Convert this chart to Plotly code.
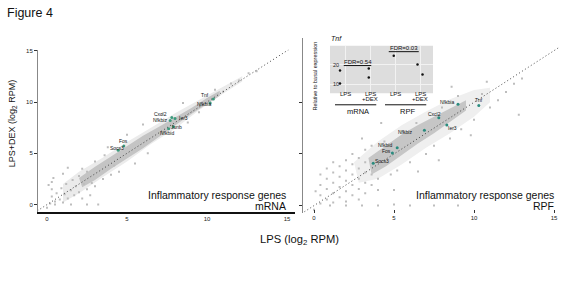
import plotly.graph_objects as go

FONT = "Liberation Sans, Arial, sans-serif"
W, H = 566, 292

# ---------------- data ----------------
axis_ticks = [0, 5, 10, 15]

# left panel (mRNA): dense band outline (upper edge then lower edge)
mrna_band_x = [2.0, 3.0, 4.0, 5.0, 6.0, 7.0, 8.0, 9.0, 10.0, 10.8, 10.8, 10.0, 9.0, 8.0, 7.0, 6.0, 5.0, 4.0, 3.0, 2.2]
mrna_band_y = [2.6, 3.7, 4.7, 5.7, 6.7, 7.6, 8.5, 9.4, 10.4, 11.1, 10.6, 9.8, 8.8, 7.7, 6.6, 5.5, 4.5, 3.5, 2.4, 1.7]
mrna_halo_x = [1.0, 2.0, 3.5, 5.0, 6.5, 8.0, 9.5, 11.0, 12.2, 12.2, 11.0, 9.5, 8.0, 6.5, 5.0, 3.5, 2.0, 1.0]
mrna_halo_y = [2.0, 3.2, 4.6, 6.1, 7.5, 8.9, 10.2, 11.5, 12.5, 12.0, 10.8, 9.2, 7.4, 5.9, 4.2, 2.7, 1.1, 0.2]
mrna_pts_x = [0.2, 0.3, 0.3, 0.3, 0.5, 0.6, 0.8, 0.9, 1.0, 1.1, 1.2, 1.3, 1.5, 1.6, 1.7, 1.8, 2.0, 2.0, 2.2, 2.3,
              2.5, 2.5, 2.8, 3.0, 0.5, 1.5, 2.5, 3.2, 3.5, 2.2, 3.0, 4.0, 1.0, 0.4, 3.6, 4.5, 5.5, 6.3, 5.0, 6.0,
              8.5, 9.5, 11.0, 11.5, 12.0, 10.5, 7.2, 8.8, 3.8, 4.2, 12.6, 13.1, 0.0, 0.1, 1.3, 2.7]
mrna_pts_y = [0.1, 0.8, 1.5, 2.2, 0.3, 1.1, 0.5, 1.6, 0.2, 1.0, 2.0, 0.6, 1.4, 2.4, 0.9, 1.8, 1.2, 2.8, 0.6, 2.0,
              1.5, 3.2, 2.1, 1.8, 0.0, 0.0, 0.0, 0.0, 2.5, 3.5, 4.2, 2.9, 3.0, 2.6, 4.8, 3.2, 4.0, 5.0, 6.8, 7.8,
              9.9, 9.0, 11.0, 11.8, 12.1, 11.2, 8.8, 8.0, 5.6, 3.8, 12.8, 13.0, -0.3, 1.9, 3.6, 0.9]
mrna_genes = ["Tnf", "Nfkbia", "Cxcl2", "Nfkbiz", "Ier3", "Junb", "Nfkbid", "Fos", "Socs3"]
mrna_gene_x = [10.4, 10.2, 7.8, 7.7, 8.0, 7.9, 7.6, 4.8, 4.45]
mrna_gene_y = [10.3, 9.9, 8.5, 8.2, 8.4, 7.6, 7.4, 5.7, 5.3]

# right panel (RPF)
rpf_band_x = [3.4, 4.5, 5.5, 6.5, 7.5, 8.5, 9.5, 9.5, 8.5, 7.5, 6.5, 5.5, 4.5, 3.6]
rpf_band_y = [4.6, 5.8, 6.9, 7.8, 8.6, 9.4, 10.2, 9.2, 8.1, 7.0, 6.0, 4.9, 3.8, 3.0]
rpf_halo_x = [2.5, 4.0, 5.5, 7.0, 8.5, 10.0, 11.0, 11.0, 10.0, 8.5, 7.0, 5.5, 4.0, 2.8]
rpf_halo_y = [4.2, 6.2, 7.8, 9.1, 10.3, 11.2, 11.4, 10.0, 8.6, 7.0, 5.6, 4.0, 2.6, 2.2]
rpf_pts_x = [0.4, 0.4, 0.4, 0.4, 0.8, 0.8, 0.8, 0.8, 1.2, 1.2, 1.2, 1.2, 1.2, 1.6, 1.6, 1.6, 1.6, 2.0, 2.0, 2.0,
             2.0, 2.0, 2.4, 2.4, 2.4, 2.4, 2.4, 2.8, 2.8, 2.8, 2.8, 2.8, 3.2, 3.2, 3.2, 3.2, 3.2, 3.6, 3.6, 3.6,
             4.0, 4.0, 4.4, 4.8, 5.2, 5.6, 6.0, 6.4, 7.0, 7.5, 8.0, 8.5, 9.0, 9.2, 10.0, 10.5, 11.0, 11.5, 12.0, 12.5,
             13.0, 6.5, 7.8, 9.8, 5.0, 4.2, 3.0, 8.6, 12.8, 10.8, 1.0, 2.0, 3.0, 4.0, 5.0, 6.0, 7.5, 9.0, 0.0, 0.1]
rpf_pts_y = [0.2, 1.0, 2.0, 3.0, 0.6, 1.6, 2.6, 3.6, 0.3, 1.2, 2.2, 3.2, 4.2, 0.8, 1.8, 2.8, 3.8, 0.4, 1.4, 2.4,
             3.4, 4.4, 1.0, 2.0, 3.0, 4.0, 5.0, 0.6, 1.6, 2.6, 3.6, 4.6, 1.2, 2.2, 3.2, 4.2, 5.4, 2.0, 3.0, 5.8,
             1.5, 2.6, 6.2, 3.0, 3.4, 7.2, 4.2, 8.0, 5.0, 5.8, 9.5, 6.5, 10.6, 7.4, 8.3, 10.8, 9.5, 10.2, 11.0, 11.8,
             12.3, 3.3, 4.4, 6.8, 1.5, 8.0, 6.5, 11.5, 8.8, 12.0, 0.0, 0.0, 0.0, 0.0, 0.1, 0.0, 0.0, 0.0, -0.4, 1.4]
rpf_genes = ["Nfkbia", "Tnf", "Cxcl2", "Ier3", "Nfkbiz", "Nfkbid", "Fos", "Socs3"]
rpf_gene_x = [9.0, 10.3, 7.8, 8.3, 6.9, 5.2, 4.9, 3.7]
rpf_gene_y = [9.8, 9.7, 8.5, 7.8, 7.3, 5.6, 5.1, 4.1]

diag = [-0.6, 15.3]

# inset: Tnf relative to basal expression
inset_pos = [1, 2, 3, 4]
inset_lab_top = ["LPS", "LPS", "LPS", "LPS"]
inset_lab_bot = ["", "+DEX", "", "+DEX"]
inset_x = [0.8, 0.8, 1.95, 1.95, 2.95, 3.9, 4.1]
inset_y = [17.0, 10.5, 18.0, 13.5, 24.5, 20.0, 15.0]
inset_ticks = [10, 20]
groups = ["mRNA", "RPF"]
fdr_text = ["FDR=0.54", "FDR=0.03"]
fdr_x0 = [0.95, 2.75]
fdr_x1 = [2.05, 3.95]
fdr_y = [19.5, 26.5]

# ---------------- figure ----------------
fig = go.Figure()
GRAY_PT = "#bdbdbd"

def band(xs, ys, xa, ya, color):
    fig.add_trace(go.Scatter(x=xs + xs[:1], y=ys + ys[:1], xaxis=xa, yaxis=ya, mode="lines",
                             fill="toself", fillcolor=color, line=dict(width=0), hoverinfo="skip",
                             showlegend=False))

DOT = dict(color="#333", width=0.9, dash="1px,2.5px")

# left panel
band(mrna_halo_x, mrna_halo_y, "x", "y", "#ebebeb")
band(mrna_band_x, mrna_band_y, "x", "y", "#c4c4c4")
fig.add_trace(go.Scatter(x=mrna_pts_x, y=mrna_pts_y, xaxis="x", yaxis="y", mode="markers",
                         marker=dict(size=2, color=GRAY_PT, symbol="square"), showlegend=False))
fig.add_trace(go.Scatter(x=diag, y=diag, xaxis="x", yaxis="y", mode="lines", line=DOT, showlegend=False))
fig.add_trace(go.Scatter(x=mrna_gene_x, y=mrna_gene_y, xaxis="x", yaxis="y", mode="markers",
                         marker=dict(size=3, color="#3c9a7c"), showlegend=False))

# right panel
band(rpf_halo_x, rpf_halo_y, "x2", "y2", "#efefef")
band(rpf_band_x, rpf_band_y, "x2", "y2", "#c6c6c6")
fig.add_trace(go.Scatter(x=rpf_pts_x, y=rpf_pts_y, xaxis="x2", yaxis="y2", mode="markers",
                         marker=dict(size=2, color=GRAY_PT, symbol="square"), showlegend=False))
fig.add_trace(go.Scatter(x=diag, y=diag, xaxis="x2", yaxis="y2", mode="lines", line=DOT, showlegend=False))
fig.add_trace(go.Scatter(x=rpf_gene_x, y=rpf_gene_y, xaxis="x2", yaxis="y2", mode="markers",
                         marker=dict(size=3, color="#2b8c7f"), showlegend=False))

# inset
fig.add_trace(go.Scatter(x=inset_x, y=inset_y, xaxis="x3", yaxis="y3", mode="markers",
                         marker=dict(size=2.5, color="#111"), showlegend=False))
for i in range(2):
    fig.add_trace(go.Scatter(x=[fdr_x0[i], fdr_x1[i]], y=[fdr_y[i], fdr_y[i]], xaxis="x3", yaxis="y3",
                             mode="lines", line=dict(color="#111", width=1), showlegend=False))
    fig.add_annotation(x=(fdr_x0[i] + fdr_x1[i]) / 2, y=fdr_y[i], xref="x3", yref="y3", text=fdr_text[i],
                       showarrow=False, xanchor="center", yanchor="bottom", yshift=-1,
                       font=dict(size=6, family=FONT, color="#111"))

tickfont = dict(size=6, family=FONT, color="#222")
fig.update_layout(
    width=W, height=H, margin=dict(l=0, r=0, t=0, b=0),
    paper_bgcolor="white", plot_bgcolor="rgba(0,0,0,0)", showlegend=False,
    xaxis=dict(domain=[38 / W, 295 / W], range=[-0.5625, 15.5], anchor="y", tickvals=axis_ticks,
               showline=True, linecolor="#111", linewidth=1.5, ticks="", showgrid=False, zeroline=False,
               tickfont=tickfont),
    yaxis=dict(domain=[1 - 211 / H, 1 - 48 / H], range=[-0.677, 15.1], anchor="x", tickvals=axis_ticks,
               showline=True, linecolor="#888", linewidth=1, ticks="outside", ticklen=3, tickcolor="#333",
               showgrid=False, zeroline=False, tickfont=tickfont),
    xaxis2=dict(domain=[303 / W, 562 / W], range=[-0.6875, 15.5], anchor="y2", tickvals=axis_ticks,
                showline=False, ticks="inside", ticklen=3, tickcolor="#333", showgrid=False, zeroline=False,
                tickfont=tickfont),
    yaxis2=dict(domain=[1 - 212 / H, 1 - 36 / H], range=[-0.673, 16.25], anchor="x2", tickvals=[0, 5, 10],
                showline=True, linecolor="#888", linewidth=1, ticks="outside", ticklen=3, tickcolor="#333",
                showticklabels=False, showgrid=False, zeroline=False),
    xaxis3=dict(domain=[330 / W, 433 / W], range=[0.4, 4.52], anchor="y3", tickvals=inset_pos,
                showticklabels=False, showline=False, ticks="", showgrid=True, gridcolor="#f2f2f2",
                gridwidth=1, zeroline=False),
    yaxis3=dict(domain=[1 - 92 / H, 1 - 44 / H], range=[5.5, 29.5], anchor="x3", tickvals=inset_ticks,
                ticklabelposition="inside", showline=False, ticks="", showgrid=True, gridcolor="#f2f2f2",
                gridwidth=1, zeroline=False, tickfont=dict(size=5.5, family=FONT, color="#222")),
)

# inset background
fig.add_shape(type="rect", xref="x3 domain", yref="y3 domain", x0=0, x1=1, y0=0, y1=1,
              fillcolor="#dddddd", line=dict(width=0), layer="below")

# inset category labels and group underlines
for p, t, b in zip(inset_pos, inset_lab_top, inset_lab_bot):
    fig.add_annotation(x=p, y=1 - 93 / H, xref="x3", yref="paper", text=t, showarrow=False,
                       xanchor="center", yanchor="middle", font=dict(size=6, family=FONT, color="#111"))
    if b:
        fig.add_annotation(x=p, y=1 - 98 / H, xref="x3", yref="paper", text=b, showarrow=False,
                           xanchor="center", yanchor="middle", font=dict(size=6, family=FONT, color="#111"))
for gi, g in enumerate(groups):
    a, b = inset_pos[2 * gi], inset_pos[2 * gi + 1]
    fig.add_shape(type="line", xref="x3", yref="paper", x0=a - 0.4, x1=b + 0.25,
                  y0=1 - 103.5 / H, y1=1 - 103.5 / H, line=dict(color="#111", width=1))
    fig.add_annotation(x=(a + b) / 2, y=1 - 110 / H, xref="x3", yref="paper", text=g, showarrow=False,
                       xanchor="center", yanchor="middle", font=dict(size=7.5, family=FONT, color="#111"))
fig.add_annotation(x=329 / W, y=1 - 37 / H, xref="paper", yref="paper", text="<i>Tnf</i>", showarrow=False,
                   xanchor="left", yanchor="middle", font=dict(size=7, family=FONT, color="#111"))
fig.add_annotation(x=315 / W, y=1 - 75 / H, xref="paper", yref="paper", text="Relative to basal expression",
                   textangle=-90, showarrow=False, xanchor="center", yanchor="middle",
                   font=dict(size=5.5, family=FONT, color="#111"))

# gene labels (pixel offsets from the points)
lab_font = dict(size=5, family=FONT, color="#111")
mrna_shift = [(-8, 4), (-6, -1), (-11, 3), (-10, 0), (8, 0), (3, 0), (-2, -4), (0, 5), (-1, 2)]
for g, gx, gy, (dx, dy) in zip(mrna_genes, mrna_gene_x, mrna_gene_y, mrna_shift):
    fig.add_annotation(x=gx, y=gy, xref="x", yref="y", text=g, showarrow=False, xshift=dx, yshift=dy,
                       xanchor="center", yanchor="middle", font=lab_font)
rpf_shift = [(-11, 2), (0, 5), (-4, 4), (6, -3), (-19, -2), (-12, 3), (-6, 2), (9, 2)]
for g, gx, gy, (dx, dy) in zip(rpf_genes, rpf_gene_x, rpf_gene_y, rpf_shift):
    fig.add_annotation(x=gx, y=gy, xref="x2", yref="y2", text=g, showarrow=False, xshift=dx, yshift=dy,
                       xanchor="center", yanchor="middle", font=lab_font)

# panel captions
cap = dict(size=10.5, family=FONT, color="#111")
for xpx, sub in [(288, "mRNA"), (556, "RPF")]:
    fig.add_annotation(x=xpx / W, y=1 - 194 / H, xref="paper", yref="paper", text="Inflammatory response genes",
                       xanchor="right", yanchor="middle", showarrow=False, font=cap)
    fig.add_annotation(x=xpx / W, y=1 - 205 / H, xref="paper", yref="paper", text=sub,
                       xanchor="right", yanchor="middle", showarrow=False, font=cap)

# titles
fig.add_annotation(x=5 / W, y=1 - 11 / H, xref="paper", yref="paper", text="Figure 4", xanchor="left",
                   yanchor="middle", showarrow=False, font=dict(size=12.5, family=FONT, color="#111"))
fig.add_annotation(x=299 / W, y=1 - 240 / H, xref="paper", yref="paper",
                   text="LPS (log<sub>2</sub> RPM)", showarrow=False, xanchor="center", yanchor="middle",
                   font=dict(size=11.2, family=FONT, color="#111"))
fig.add_annotation(x=12 / W, y=1 - 123 / H, xref="paper", yref="paper",
                   text="LPS+DEX (log<sub>2</sub> RPM)", textangle=-90, showarrow=False,
                   xanchor="center", yanchor="middle", font=dict(size=9, family=FONT, color="#111"))

fig.write_html("out.html", config={"displayModeBar": False},
               post_script="document.body.style.margin='0';")
